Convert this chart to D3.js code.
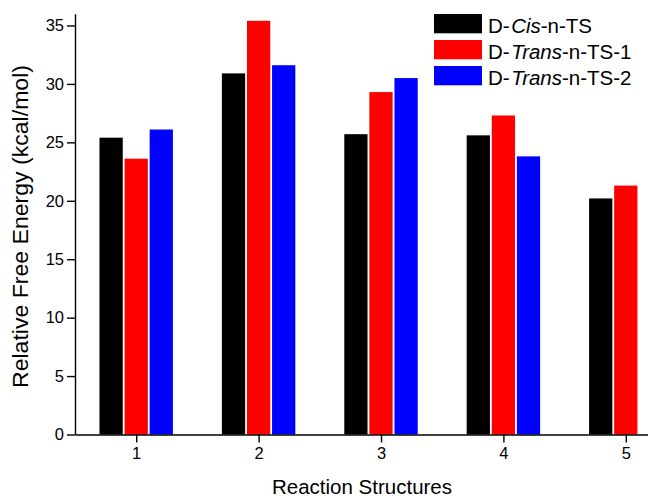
<!DOCTYPE html>
<html>
<head>
<meta charset="utf-8">
<script src="https://cdn.jsdelivr.net/npm/d3@7"></script>
<style>
  html, body { margin: 0; padding: 0; background: #fff; }
  svg { display: block; font-family: "Liberation Sans", Arial, sans-serif; }
</style>
</head>
<body>
<svg id="chart" width="648" height="501"></svg>
<script>
const categories = [1, 2, 3, 4, 5];
const seriesNames = ["Cis", "Trans1", "Trans2"];
const cisValues    = [25.4, 30.9, 25.7, 25.6, 20.2];
const trans1Values = [23.6, 35.4, 29.3, 27.3, 21.3];
const trans2Values = [26.1, 31.6, 30.5, 23.8, null];
const yTicks = [0, 5, 10, 15, 20, 25, 30, 35];
const colors = ["#000000", "#ff0000", "#0000ff"];
const legendLabels = [
  ["D-", "Cis", "-n-TS"],
  ["D-", "Trans", "-n-TS-1"],
  ["D-", "Trans", "-n-TS-2"]
];

const svg = d3.select("#chart");
const x = d3.scaleLinear().domain([0.5, 5.5]).range([75, 687]);
const y = d3.scaleLinear().domain([0, 36]).range([434.5, 13.8]);

const series = [cisValues, trans1Values, trans2Values];
const offsets = [-0.205, 0, 0.205];
const barW = 0.19;

const bars = [];
series.forEach((vals, si) => {
  vals.forEach((v, ci) => {
    if (v != null) bars.push({ s: si, c: categories[ci], v: v });
  });
});

svg.append("g").selectAll("rect").data(bars).join("rect")
  .attr("x", d => x(d.c + offsets[d.s] - barW / 2))
  .attr("width", d => x(d.c + barW) - x(d.c))
  .attr("y", d => y(d.v))
  .attr("height", d => y(0) - y(d.v))
  .attr("fill", d => colors[d.s]);

// Y axis
const yAxis = d3.axisLeft(y).tickValues(yTicks).tickFormat(d3.format("d"))
  .tickSize(8).tickPadding(3).tickSizeOuter(0);
const gy = svg.append("g").attr("transform", "translate(75,0)").call(yAxis);
gy.select(".domain").attr("stroke-width", 1.4);
gy.selectAll(".tick line").attr("stroke-width", 1.4);
gy.selectAll(".tick text").attr("font-size", 16.5).attr("font-family", "Liberation Sans, Arial, sans-serif").attr("fill", "#000");

// X axis
const xAxis = d3.axisBottom(x).tickValues(categories).tickFormat(d3.format("d"))
  .tickSize(8).tickPadding(5).tickSizeOuter(0);
const gx = svg.append("g").attr("transform", "translate(0,434.5)").call(xAxis);
gx.select(".domain").attr("stroke-width", 1.4);
gx.selectAll(".tick line").attr("stroke-width", 1.4);
gx.selectAll(".tick text").attr("font-size", 16.5).attr("font-family", "Liberation Sans, Arial, sans-serif").attr("fill", "#000");

// Axis titles
svg.append("text")
  .attr("x", 362).attr("y", 494)
  .attr("text-anchor", "middle")
  .attr("font-size", 20.5)
  .attr("fill", "#000")
  .text("Reaction Structures");

svg.append("text")
  .attr("transform", "translate(28,226.5) rotate(-90)")
  .attr("text-anchor", "middle")
  .attr("font-size", 22)
  .attr("textLength", 323)
  .attr("lengthAdjust", "spacingAndGlyphs")
  .attr("fill", "#000")
  .text("Relative Free Energy (kcal/mol)");

// Legend
const lg = svg.append("g");
legendLabels.forEach((parts, i) => {
  const yy = 14 + i * 26;
  lg.append("rect").attr("x", 434).attr("y", yy).attr("width", 48).attr("height", 19.3).attr("fill", colors[i]);
  const t = lg.append("text").attr("x", 488).attr("y", yy + 18.7).attr("font-size", 20.5).attr("fill", "#000");
  t.append("tspan").text(parts[0]);
  t.append("tspan").attr("dx", 1.5).attr("font-style", "italic").text(parts[1]);
  t.append("tspan").text(parts[2]);
});
</script>
</body>
</html>
